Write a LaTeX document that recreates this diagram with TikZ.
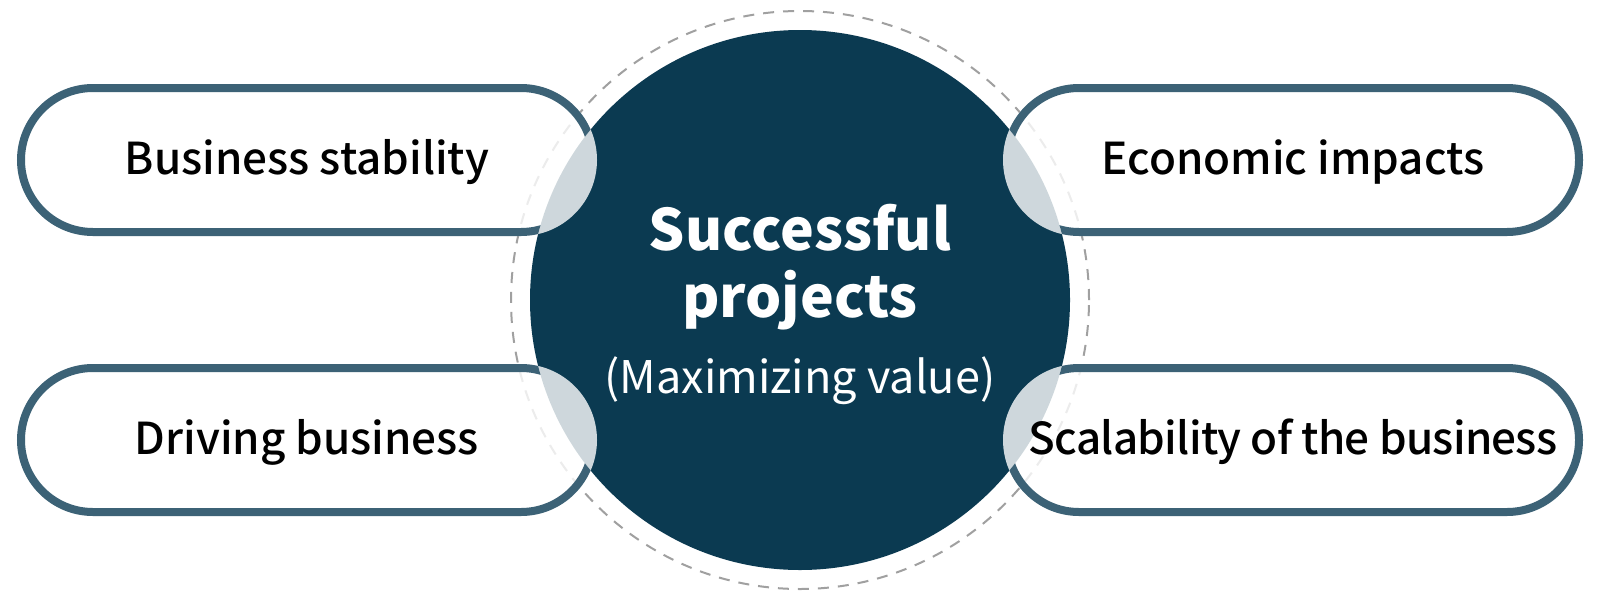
\documentclass[tikz,border=0pt]{standalone}
\usepackage{fontspec}
\setmainfont{Noto Sans CJK KR}
\newfontfamily\medfont{Noto Sans CJK KR Medium}
\newfontfamily\medtight{Noto Sans CJK KR Medium}[LetterSpace=-1.6]
\definecolor{navy}{HTML}{0B3A51}
\definecolor{pillcol}{HTML}{3C6276}
\definecolor{dashcol}{HTML}{A0A0A0}
\begin{document}
\begin{tikzpicture}[x=1pt,y=-1pt,
  pill/.style={draw=none, fill=white, fill opacity=0.8, text opacity=1,
    rounded corners=76pt, minimum width=580pt, minimum height=152pt, inner sep=0pt, outer sep=0pt,
    text height=29pt, text depth=0pt, font=\medfont\fontsize{44}{53}\selectfont, text=black},
  pillborder/.style={draw=pillcol, line width=8pt, rounded corners=72pt},
  centertext/.style={anchor=base, text=white, inner sep=0pt}]
\fill[white] (0,0) rectangle (1600,600);
\useasboundingbox (0,0) rectangle (1600,600);
\node[circle, draw=dashcol, dash pattern=on 11pt off 9pt, line width=2pt,
  minimum size=578pt, inner sep=0pt] (ring) at (800,300) {};
\node[circle, fill=navy, minimum size=540pt, inner sep=0pt] (c) at (800,300) {};
\node[pill] (bs) at (307,160) {Business stability};
\node[pill] (db) at (307,440) {Driving business};
\node[pill] (ei) at (1293,160) {Economic impacts};
\node[pill, font=\medtight\fontsize{44}{53}\selectfont] (sb) at (1293,440) {Scalability of the business};
\begin{scope}[even odd rule]
  \clip (0,0) rectangle (1600,600) (c.center) circle (270);
  \foreach \p in {bs,db,ei,sb}
    \draw[pillborder] ([xshift=4pt,yshift=-4pt]\p.north west) rectangle ([xshift=-4pt,yshift=4pt]\p.south east);
\end{scope}
\node[centertext, font=\bfseries\fontsize{57}{68}\selectfont] (t1) at (800,250) {Successful};
\node[centertext, font=\bfseries\fontsize{57}{68}\selectfont] (t2) at (800,317) {projects};
\node[centertext, font=\fontsize{45}{54}\selectfont] (t3) at (800,393) {(Maximizing value)};
\end{tikzpicture}
\end{document}
